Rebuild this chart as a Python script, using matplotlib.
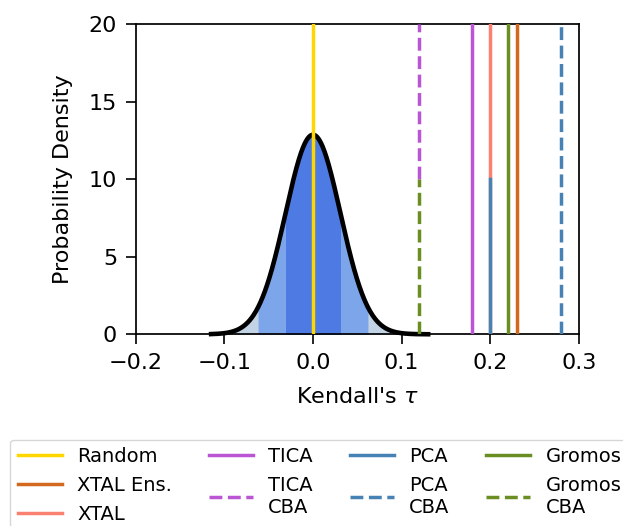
import numpy as np
import matplotlib
matplotlib.use("Agg")
import matplotlib.pyplot as plt

# ---- data ----
null_mean = 0.0
null_sigma = 0.031
curve_range = [-0.115, 0.13]

method_labels = ["Random", "XTAL Ens.", "XTAL", "TICA", "TICA\nCBA",
                 "PCA", "PCA\nCBA", "Gromos", "Gromos\nCBA"]
method_tau = [0.0, 0.23, 0.20, 0.18, 0.12, 0.20, 0.28, 0.22, 0.12]
method_colors = ["gold", "chocolate", "salmon", "mediumorchid", "mediumorchid",
                 "steelblue", "steelblue", "olivedrab", "olivedrab"]
method_styles = ["-", "-", "-", "-", "--", "-", "--", "-", "--"]
method_ymin = [0, 0, 0, 0, 0.5, 0, 0, 0, 0]
method_ymax = [1, 1, 1, 1, 1, 0.5, 1, 1, 0.5]

band_colors = ["#c3d3e6", "#7ca5ea", "#4d7ae3"]  # 3, 2, 1 sigma

xticks = [-0.2, -0.1, 0.0, 0.1, 0.2, 0.3]
yticks = [0, 5, 10, 15, 20]

# ---- figure ----
fig = plt.figure(figsize=(6.23, 5.26), dpi=100)
ax = fig.add_axes([0.218, 0.3645, 0.711, 0.5895])

def pdf(x):
    return np.exp(-0.5 * ((x - null_mean) / null_sigma) ** 2) / (null_sigma * np.sqrt(2 * np.pi))

for k, col in zip([3, 2, 1], band_colors):
    xs = np.linspace(null_mean - k * null_sigma, null_mean + k * null_sigma, 400)
    ax.fill_between(xs, 0, pdf(xs), color=col, lw=0, zorder=1)

xc = np.linspace(curve_range[0], curve_range[1], 600)
ax.plot(xc, pdf(xc), color="black", lw=3.3, zorder=2, clip_on=False)

handles = []
for lab, t, c, ls, y0, y1 in zip(method_labels, method_tau, method_colors,
                                 method_styles, method_ymin, method_ymax):
    h = ax.axvline(t, ymin=y0, ymax=y1, color=c, ls=ls, lw=2.5, label=lab, zorder=3)
    handles.append(h)

ax.set_xlim(-0.2, 0.3)
ax.set_ylim(0, 20)
ax.set_xticks(xticks)
ax.set_yticks(yticks)
ax.tick_params(labelsize=16, length=7, width=1.2, pad=6.5)
for s in ax.spines.values():
    s.set_linewidth(1.25)
ax.set_xlabel(r"Kendall's $\tau$", fontsize=16, labelpad=9.8)
ax.set_ylabel("Probability Density", fontsize=16, labelpad=11.5)

fig.legend(handles=handles, labels=method_labels, ncol=4, fontsize=14,
           loc="upper left", bbox_to_anchor=(10 / 623, 1 - 439.5 / 526),
           bbox_transform=fig.transFigure, borderaxespad=0,
           handlelength=2.25, columnspacing=1.9)

fig.savefig("out.png", dpi=100)
